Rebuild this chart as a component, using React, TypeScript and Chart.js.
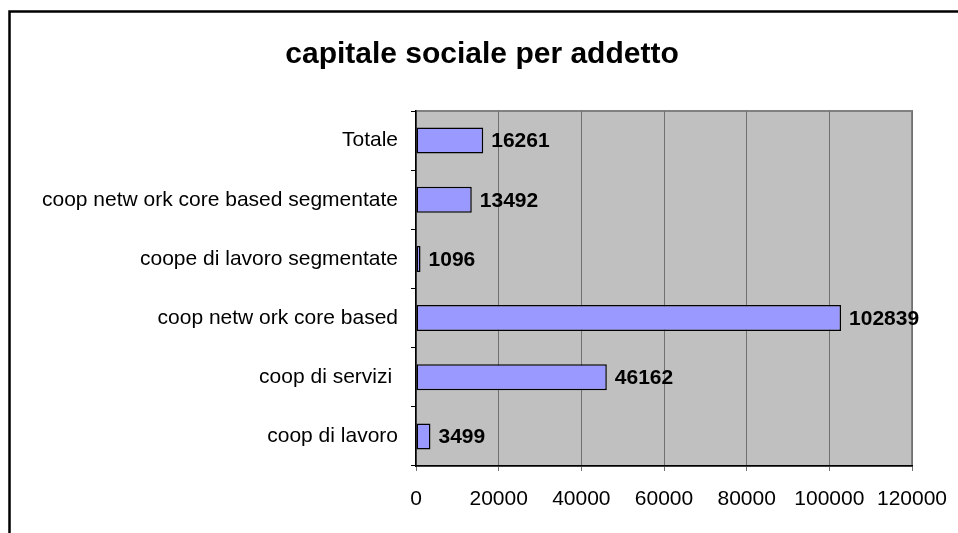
import React, { useEffect, useRef } from "react";
import { Chart, registerables } from "chart.js";

Chart.register(...registerables);

const TITLE = "capitale sociale per addetto";
const categories = [
  "Totale",
  "coop netw ork core based segmentate",
  "coope di lavoro segmentate",
  "coop netw ork core based",
  "coop di servizi ",
  "coop di lavoro",
];
const values = [16261, 13492, 1096, 102839, 46162, 3499];
const xTicks = [0, 20000, 40000, 60000, 80000, 100000, 120000];

const FONT = "'Liberation Sans', Arial, Helvetica, sans-serif";

const framePlugin = {
  id: "frameAndPlot",
  beforeDraw(chart: any) {
    const { ctx, chartArea: a } = chart;
    ctx.save();
    ctx.fillStyle = "#ffffff";
    ctx.fillRect(0, 0, chart.width, chart.height);
    // outer frame (continues beyond the canvas on the right and bottom)
    ctx.strokeStyle = "#000000";
    ctx.lineWidth = 2.5;
    ctx.strokeRect(9.5, 11.5, 2000, 2000);
    // plot background
    ctx.fillStyle = "#c0c0c0";
    ctx.fillRect(a.left, a.top, a.right - a.left, a.bottom - a.top);
    ctx.strokeStyle = "#808080";
    ctx.lineWidth = 2;
    ctx.strokeRect(a.left, a.top, a.right - a.left, a.bottom - a.top);
    // title
    ctx.fillStyle = "#000000";
    ctx.font = `bold 30px ${FONT}`;
    ctx.textAlign = "center";
    ctx.textBaseline = "alphabetic";
    ctx.fillText(TITLE, 482, 63);
    ctx.restore();
  },
};

const valueLabels = {
  id: "valueLabels",
  afterDatasetsDraw(chart: any) {
    const { ctx } = chart;
    const meta = chart.getDatasetMeta(0);
    ctx.save();
    ctx.fillStyle = "#000000";
    ctx.font = `bold 21px ${FONT}`;
    ctx.textAlign = "left";
    ctx.textBaseline = "middle";
    meta.data.forEach((el: any, i: number) => {
      ctx.fillText(String(values[i]), el.x + 8, el.y + 1);
    });
    ctx.restore();
  },
};

export default function App() {
  const ref = useRef<HTMLCanvasElement | null>(null);

  useEffect(() => {
    if (!ref.current) return;
    const chart = new Chart(ref.current, {
      type: "bar",
      data: {
        labels: categories,
        datasets: [
          {
            data: values,
            backgroundColor: "#9999ff",
            borderColor: "#000000",
            borderWidth: 1.5,
            borderSkipped: false,
            categoryPercentage: 1,
            barPercentage: 0.44,
          },
        ],
      },
      options: {
        indexAxis: "y",
        responsive: false,
        animation: false,
        layout: { padding: { left: 0, right: 46, top: 111, bottom: 0 } },
        plugins: {
          legend: { display: false },
          title: { display: false },
          tooltip: { enabled: false },
        },
        scales: {
          x: {
            min: 0,
            max: 120000,
            afterBuildTicks(scale: any) {
              scale.ticks = xTicks.map((v) => ({ value: v }));
            },
            afterFit(scale: any) {
              scale.height = 67;
              scale.paddingLeft = 0;
              scale.paddingRight = 0;
            },
            grid: {
              color: "#707070",
              lineWidth: 1,
              tickLength: 5,
              drawTicks: true,
            },
            border: { color: "#000000", width: 1.5 },
            ticks: {
              color: "#000000",
              font: { family: FONT, size: 21 },
              padding: 16,
              maxRotation: 0,
              autoSkip: false,
              callback: (v: any) => String(v),
            },
          },
          y: {
            afterFit(scale: any) {
              scale.width = 416;
              scale.paddingTop = 0;
              scale.paddingBottom = 0;
            },
            grid: {
              drawOnChartArea: false,
              drawTicks: true,
              tickLength: 5,
              color: "#000000",
              offset: true,
            },
            border: { color: "#000000", width: 1.5 },
            ticks: {
              color: "#000000",
              font: { family: FONT, size: 21 },
              padding: 13,
              autoSkip: false,
            },
          },
        },
      },
      plugins: [framePlugin, valueLabels],
    });
    return () => chart.destroy();
  }, []);

  return (
    <div
      style={{
        position: "fixed",
        left: 0,
        top: 0,
        width: 958,
        height: 533,
        background: "#ffffff",
      }}
    >
      <canvas ref={ref} width={958} height={533} />
    </div>
  );
}
